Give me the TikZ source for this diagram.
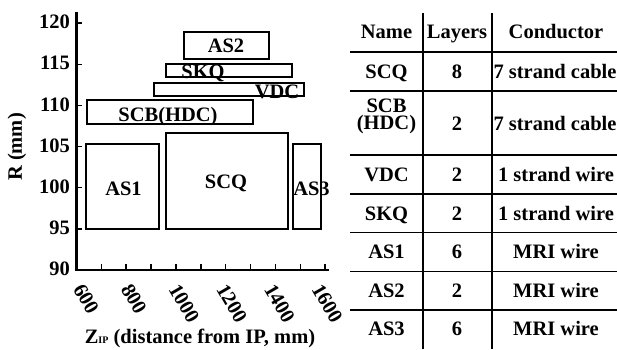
\documentclass[tikz,border=0pt]{standalone}
\usepackage{fontspec}
\setmainfont{Liberation Serif}
\begin{document}
\begin{tikzpicture}[x=1pt,y=-1pt,
  every node/.style={inner sep=0pt, font=\fontsize{20.5}{22}\selectfont\bfseries},
  box/.style={draw, line width=1.3pt},
  axisline/.style={line width=2.3pt},
  tickmark/.style={line width=1.5pt},
  tablerule/.style={line width=1.8pt},
  ylab/.style={anchor=east},
  xlab/.style={anchor=north west, rotate=-60},
  cell/.style={anchor=base}]
\useasboundingbox (0,0) rectangle (617,349);

% axes
\coordinate (ytop) at (76.5,12);
\coordinate (orig) at (76.5,270);
\coordinate (xend) at (329,270);
\draw[axisline] (ytop) -- (orig) -- (xend);

\foreach \r/\yy in {120/23.1,115/64.25,110/105.4,105/146.6,100/187.7,95/228.85} {
  \draw[tickmark] (76.5,\yy) -- (82,\yy);
}
\foreach \r/\yy in {120/23.1,115/64.25,110/105.4,105/146.6,100/187.7,95/228.85,90/270} {
  \node[ylab] (y\r) at (70,{\yy-1}) {\r};
}
\foreach \i in {1,...,10} {
  \draw[tickmark] ({76.5+24.87*\i},270) -- ({76.5+24.87*\i},264);
}
\foreach \z [count=\k from 0] in {600,800,1000,1200,1400,1600} {
  \node[xlab] (x\z) at ({84.6+47.7*\k},282) {\z};
}

\node[rotate=90] (rlab) at (17,147) {R (mm)};
\node[anchor=base] (zlab) at (200,343) {Z{\fontsize{10}{10}\selectfont IP} (distance from IP, mm)};

% coil boxes
\node[box, minimum width=85pt, minimum height=27pt] (as2) at (226.5,45.5) {};
\node[box, minimum width=126pt, minimum height=13pt] (skq) at (229,70.5) {};
\node[box, minimum width=150pt, minimum height=13pt] (vdc) at (229,89.5) {};
\node[box, minimum width=166pt, minimum height=24pt] (scb) at (170,112) {};
\node[box, minimum width=73pt, minimum height=85pt] (as1) at (122.5,186.5) {};
\node[box, minimum width=122pt, minimum height=96pt] (scq) at (227,181) {};
\node[box, minimum width=28pt, minimum height=85pt] (as3) at (307,186.5) {};

\node[anchor=base] (las2) at (226,52) {AS2};
\node[anchor=base] (lskq) at (203,78) {SKQ};
\node[anchor=base] (lvdc) at (277,98.5) {VDC};
\node[anchor=base] (lscb) at (168,121) {SCB(HDC)};
\node[anchor=base] (las1) at (123.5,195) {AS1};
\node[anchor=base] (lscq) at (226,188) {SCQ};
\node[anchor=base] (las3) at (311.5,195) {AS3};

% table rules
\foreach \yy in {52,91,155,194,232.5,271.5,310} {
  \draw[tablerule] (350,\yy) -- (617,\yy);
}
\draw[tablerule] (423,13) -- (423,349);
\draw[tablerule] (492,13) -- (492,349);

% table cells
\node[cell] (h1) at (386.5,38) {Name};
\node[cell] (h2) at (457,38) {Layers};
\node[cell] (h3) at (556,38) {Conductor};

\node[cell] (n1) at (386.5,78) {SCQ};
\node[cell] (l1) at (457,78) {8};
\node[cell] (c1) at (555,78) {7 strand cable};

\node[cell] (n2a) at (386.5,112) {SCB};
\node[cell] (n2b) at (386.5,129) {(HDC)};
\node[cell] (l2) at (457,130) {2};
\node[cell] (c2) at (555,130) {7 strand cable};

\node[cell] (n3) at (386.5,181.5) {VDC};
\node[cell] (l3) at (457,181.5) {2};
\node[cell] (c3) at (556,181.5) {1 strand wire};

\node[cell] (n4) at (386.5,220) {SKQ};
\node[cell] (l4) at (457,220) {2};
\node[cell] (c4) at (556,220) {1 strand wire};

\node[cell] (n5) at (386.5,258) {AS1};
\node[cell] (l5) at (457,258) {6};
\node[cell] (c5) at (556,258) {MRI wire};

\node[cell] (n6) at (386.5,297) {AS2};
\node[cell] (l6) at (457,297) {2};
\node[cell] (c6) at (556,297) {MRI wire};

\node[cell] (n7) at (386.5,335.5) {AS3};
\node[cell] (l7) at (457,335.5) {6};
\node[cell] (c7) at (556,335.5) {MRI wire};
\end{tikzpicture}
\end{document}
